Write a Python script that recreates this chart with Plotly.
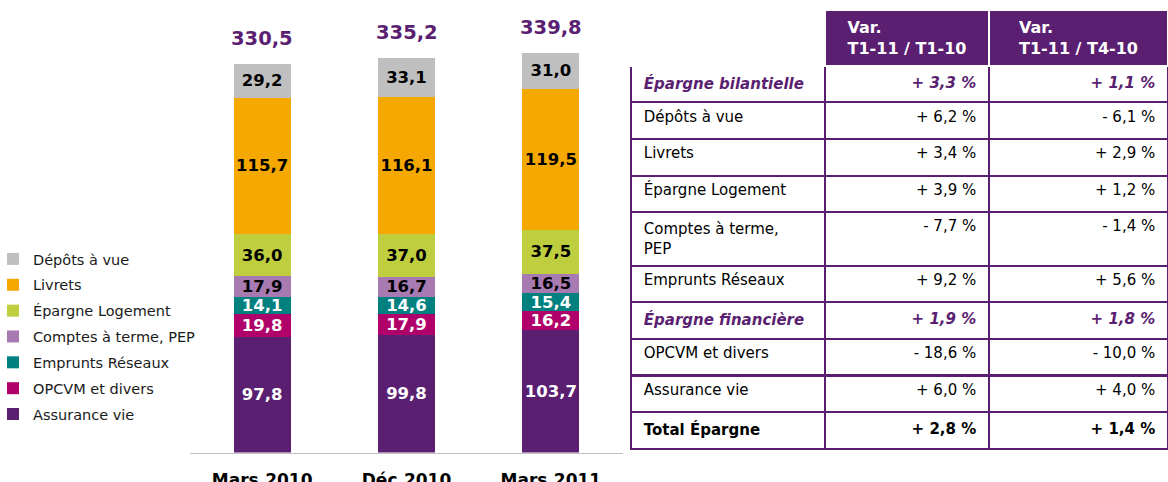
import plotly.graph_objects as go

# ---------------- data ----------------
periods = ["Mars.2010", "Déc.2010", "Mars.2011"]

# stacked series, bottom -> top
series_names = ["Assurance vie", "OPCVM et divers", "Emprunts Réseaux",
                "Comptes à terme, PEP", "Épargne Logement", "Livrets", "Dépôts à vue"]
assurance_vie = [97.8, 99.8, 103.7]
opcvm = [19.8, 17.9, 16.2]
emprunts = [14.1, 14.6, 15.4]
comptes_terme = [17.9, 16.7, 16.5]
epargne_logement = [36.0, 37.0, 37.5]
livrets = [115.7, 116.1, 119.5]
depots_vue = [29.2, 33.1, 31.0]
totals = [330.5, 335.2, 339.8]

# table
row_labels = ["Épargne bilantielle", "Dépôts à vue", "Livrets", "Épargne Logement",
              "Comptes à terme,<br>PEP", "Emprunts Réseaux", "Épargne financière",
              "OPCVM et divers", "Assurance vie", "Total Épargne"]
var_t1_t1 = [3.3, 6.2, 3.4, 3.9, -7.7, 9.2, 1.9, -18.6, 6.0, 2.8]
var_t1_t4 = [1.1, -6.1, 2.9, 1.2, -1.4, 5.6, 1.8, -10.0, 4.0, 1.4]
row_style = ["bi", "", "", "", "", "", "bi", "", "", "b"]
header_labels = ["", "Var.<br>T1-11 / T1-10", "Var.<br>T1-11 / T4-10"]

# ---------------- styles ----------------
PURPLE = "#5B1F72"
bar_colors = ["#5B1F72", "#B0006A", "#00807F", "#A77AB1", "#BFCE3E", "#F5A800", "#BFBFBF"]
label_colors = ["white", "white", "white", "black", "black", "black", "black"]
series_values = [assurance_vie, opcvm, emprunts, comptes_terme, epargne_logement, livrets, depots_vue]
FONT = "DejaVu Sans"

fig = go.Figure()

n = len(series_names)
for i, (name, vals) in enumerate(zip(series_names, series_values)):
    fig.add_trace(go.Bar(
        x=periods, y=vals, name=name, legendgroup=name, legendrank=n - i,
        marker=dict(color=bar_colors[i], line=dict(width=0)),
        width=0.395,
        texttemplate="%{y:.1f}", textposition="inside", insidetextanchor="middle",
        textangle=0, constraintext="none",
        textfont=dict(family=FONT, size=16.5, color=label_colors[i], weight="bold"),
        hoverinfo="skip",
    ))

for x, t in zip(periods, totals):
    fig.add_annotation(x=x, y=t, xref="x", yref="y",
                       text=("%.1f" % t).replace(".", ","),
                       showarrow=False, yanchor="middle", yshift=25,
                       font=dict(family=FONT, size=19.5, color=PURPLE, weight="bold"))


def fmt(v):
    return ("+ " if v >= 0 else "- ") + ("%.1f" % abs(v)).replace(".", ",") + " %"


def styled(txt, st):
    if st == "bi":
        return "<b><i>%s</i></b>" % txt
    if st == "b":
        return "<b>%s</b>" % txt
    return txt


col0 = [" " + styled(t.replace("<br>", "<br> "), s) for t, s in zip(row_labels, row_style)]
col1 = [styled(fmt(v), s) + " " for v, s in zip(var_t1_t1, row_style)]
col2 = [styled(fmt(v), s) + " " for v, s in zip(var_t1_t4, row_style)]
row_font_colors = [PURPLE if s == "bi" else "black" for s in row_style]

fig.add_trace(go.Table(
    domain=dict(x=[631 / 1168, 1.0], y=[0.0, 1 - 10 / 482]),
    columnwidth=[194, 164, 179],
    header=dict(
        values=["<b>%s</b>" % h if h else "" for h in header_labels],
        fill=dict(color=["white", PURPLE, PURPLE]),
        line=dict(color=["white", "white", "white"], width=1.5),
        align="center",
        font=dict(family=FONT, size=16, color="white"),
        height=49,
    ),
    cells=dict(
        values=[col0, col1, col2],
        fill=dict(color="white"),
        line=dict(color=PURPLE, width=2),
        align=["left", "right", "right"],
        font=dict(family=FONT, size=15,
                  color=[row_font_colors, row_font_colors, row_font_colors]),
        height=36.6,
    ),
))

fig.update_layout(
    width=1168, height=482,
    margin=dict(l=0, r=0, t=0, b=0, autoexpand=False),
    paper_bgcolor="white", plot_bgcolor="white",
    separators=", ",
    barmode="stack",
    font=dict(family=FONT, color="black"),
    showlegend=True,
    legend=dict(
        x=-7 / 1168, xanchor="left", y=1 - 243 / 482, yanchor="top",
        traceorder="grouped", tracegroupgap=4,
        font=dict(family=FONT, size=14.5, color="#1a1a1a"),
        bgcolor="rgba(0,0,0,0)", borderwidth=0,
    ),
    xaxis=dict(
        domain=[190 / 1168, 623 / 1168], range=[-0.5, 2.5],
        showline=True, linecolor="#BFBFBF", linewidth=1,
        showgrid=False, zeroline=False, ticks="", automargin=False,
        tickfont=dict(family=FONT, size=17, color="black", weight="bold"),
        ticklabelstandoff=12, fixedrange=True,
    ),
    yaxis=dict(
        domain=[1 - 452.5 / 482, 1.0], range=[0, 452.5 / 1.177],
        visible=False, showgrid=False, zeroline=False, automargin=False, fixedrange=True,
    ),
)

fig.write_html("out.html", include_plotlyjs=True, config={"displayModeBar": False},
               post_script="document.body.style.margin='0';document.body.style.overflow='hidden';")
